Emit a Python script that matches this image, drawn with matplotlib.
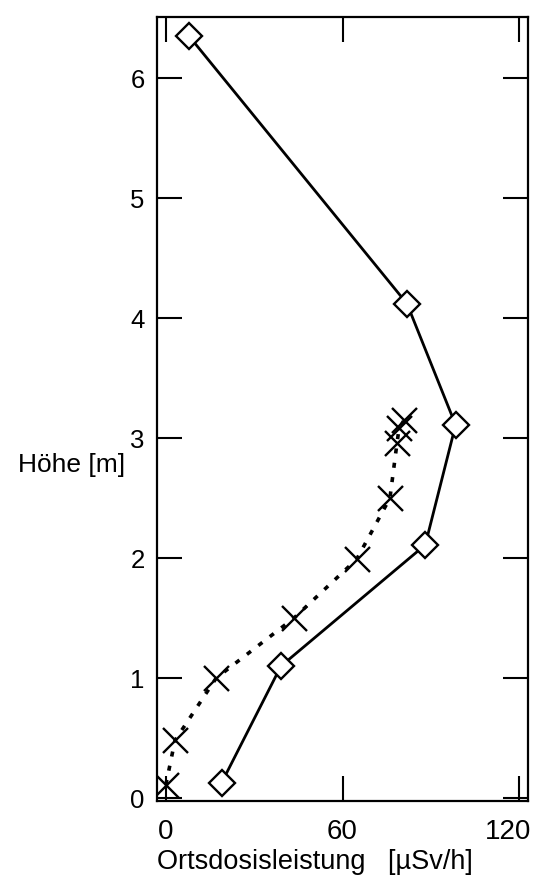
import matplotlib.pyplot as plt
import matplotlib.transforms as mtransforms

plt.rcParams['font.family'] = ['Liberation Sans', 'DejaVu Sans']

# Messreihe 1 (Rauten, durchgezogen)
dose_a = [7.9, 81.9, 98.4, 88.1, 39.1, 18.9]
height_a = [6.35, 4.12, 3.11, 2.11, 1.10, 0.125]

# Messreihe 2 (Kreuze, gepunktet)
dose_b = [0.0, 3.1, 17.1, 43.5, 64.8, 76.1, 78.5, 79.2, 80.9]
height_b = [0.11, 0.48, 1.0, 1.5, 1.99, 2.5, 2.96, 3.08, 3.15]

x_ticks = [0, 60, 120]
y_ticks = [0, 1, 2, 3, 4, 5, 6]

fig = plt.figure(figsize=(5.35, 8.81), dpi=100)
ax = fig.add_axes([0.2935, 0.0908, 0.6935, 0.8899])

ax.plot(dose_a, height_a, color='black', lw=2.0, marker='D', ms=13.5,
        mfc='white', mec='black', mew=1.7)
ax.plot(dose_b, height_b, color='black', lw=2.6, linestyle=(0, (1.4, 2.6)),
        marker='x', ms=18, mec='black', mew=1.7)

ax.set_xlim(-3, 123)
ax.set_ylim(-0.025, 6.51)
ax.set_xticks(x_ticks)
ax.set_yticks(y_ticks)

ax.tick_params(direction='in', length=18, width=1.5, top=True, right=True,
               colors='black')
ax.tick_params(axis='x', labelsize=20, pad=13)
ax.tick_params(axis='y', labelsize=18.5, pad=9)
for s in ax.spines.values():
    s.set_linewidth(1.6)

# letzte Beschriftung etwas nach links, damit sie nicht abgeschnitten wird
shift = mtransforms.ScaledTranslation(-0.11, 0, fig.dpi_scale_trans)
last = ax.get_xticklabels()[-1]
last.set_transform(last.get_transform() + shift)

ax.set_ylabel('Höhe [m]', rotation=0, fontsize=19, ha='right', va='center')
ax.yaxis.set_label_coords(-0.086, 0.4286)
ax.set_xlabel('Ortsdosisleistung   [µSv/h]', fontsize=19.5, va='center')
ax.xaxis.set_label_coords(0.426, -0.078)

fig.savefig('out.png', dpi=100)
